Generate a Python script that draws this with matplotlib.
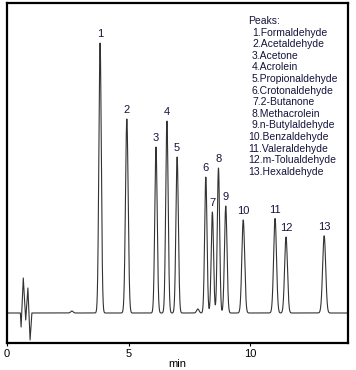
import numpy as np
import matplotlib
matplotlib.use("Agg")
import matplotlib.pyplot as plt

plt.rcParams['font.family'] = ['Liberation Sans', 'DejaVu Sans']

# peak table (time in min, height in detector units)
peak_ids = ["1", "2", "3", "4", "5", "6", "7", "8", "9", "10", "11", "12", "13"]
peak_time = [3.83, 4.93, 6.13, 6.58, 7.00, 8.18, 8.45, 8.70, 9.00, 9.72, 11.03, 11.48, 13.05]
peak_height = [270, 194, 166, 192, 156, 136, 101, 145, 107, 93, 94, 76, 77]
peak_sigma = [0.05, 0.055, 0.05, 0.05, 0.05, 0.048, 0.048, 0.048, 0.052, 0.058, 0.058, 0.058, 0.062]

# tiny baseline bumps
bump_time = [2.67, 7.85, 10.95, 12.95]
bump_height = [2, 4, 2, 1.5]

# injection disturbance at the start (time, signal)
noise_t = [0.55, 0.58, 0.67, 0.77, 0.86, 0.95, 1.02]
noise_y = [0, -14, 35, -7, 25, -27, 0]

names = ["Formaldehyde", "Acetaldehyde", "Acetone", "Acrolein", "Propionaldehyde",
         "Crotonaldehyde", "2-Butanone", "Methacrolein", "n-Butylaldehyde",
         "Benzaldehyde", "Valeraldehyde", "m-Tolualdehyde", "Hexaldehyde"]

t = np.linspace(0, 14.03, 4000)
sig = np.zeros_like(t)
for tr, h, s in zip(peak_time + bump_time, peak_height + bump_height,
                    peak_sigma + [0.05] * len(bump_time)):
    sig += h * np.exp(-0.5 * ((t - tr) / s) ** 2)

pre = t < noise_t[0]
post = t > noise_t[-1]
tt = np.concatenate([t[pre], noise_t, t[post]])
yy = np.concatenate([sig[pre], noise_y, sig[post]])

fig = plt.figure(figsize=(3.56, 3.70), dpi=100)
ax = fig.add_axes([7 / 356, 27 / 370, 341 / 356, 340 / 370])
ax.plot(tt, yy, color='#333333', lw=0.8)

lab_col = '#14143c'
for pid, tr, h in zip(peak_ids, peak_time, peak_height):
    ax.annotate(pid, (tr, h), xytext=(0, 3), textcoords='offset points',
                ha='center', va='bottom', fontsize=8, color=lab_col)

# peak list in the upper right
ax.text(9.92, 292, "Peaks:", fontsize=7.5, color=lab_col, va='center')
for i, nm in enumerate(names):
    x0 = 10.08 if i < 9 else 9.92
    ax.text(x0, 292 - 11.6 * (i + 1), "%d.%s" % (i + 1, nm), fontsize=7.5,
            color=lab_col, va='center')

ax.set_xlim(0, 14.03)
ax.set_ylim(-30, 310)
ax.set_xticks([0, 5, 10])
ax.set_yticks([])
ax.tick_params(axis='x', length=2, width=0.8, labelsize=8, pad=2)
for sp in ax.spines.values():
    sp.set_linewidth(1.6)
ax.set_xlabel("min", fontsize=8, labelpad=0)

fig.savefig("out.png", dpi=100)
